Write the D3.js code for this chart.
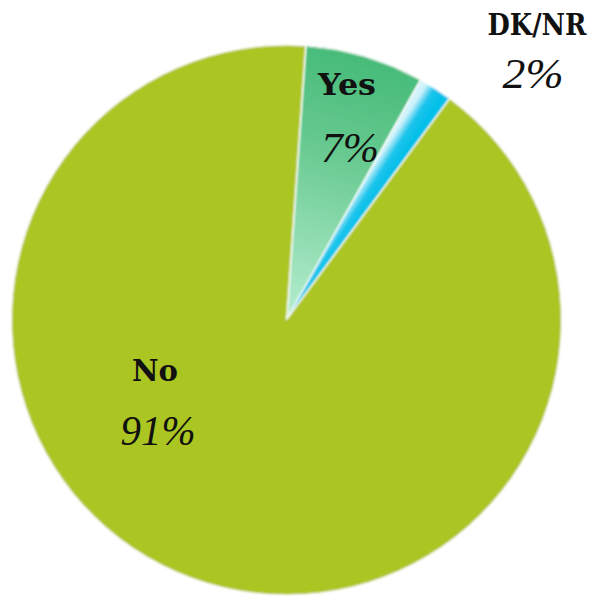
<!DOCTYPE html>
<html>
<head>
<meta charset="utf-8">
<script src="https://cdn.jsdelivr.net/npm/d3@7"></script>
<style>
  html, body { margin: 0; padding: 0; background: #ffffff; }
  svg { display: block; }
</style>
</head>
<body>
<svg id="pie-svg" width="593" height="596"></svg>
<script>
// data
const categories = ["Yes", "DK/NR", "No"]
const shares = [7, 2, 91]
const pctLabels = ["7%", "2%", "91%"]

const width = 593, height = 596
const cx = 286.5, cy = 320, radius = 275
const start_deg = 4

// label placement (picked by hand, like the original)
const labelPos = {
    "Yes":   { name: [347, 95],  pct: [350, 162], nameW: 58,  pctW: 58 },
    "DK/NR": { name: [537, 35],  pct: [533, 88],  nameW: 99,  pctW: 61 },
    "No":    { name: [155, 381], pct: [158, 445], nameW: 46,  pctW: 75 }
}

const svg = d3.select("#pie-svg")
const defs = svg.append("defs")

// soft edge look
const soft = defs.append("filter").attr("id", "soft")
    .attr("x", "-5%").attr("y", "-5%").attr("width", "110%").attr("height", "110%")
soft.append("feGaussianBlur").attr("stdDeviation", 1.3)

const pie = d3.pie()
    .sort(null)
    .value(d => d.value)
    .startAngle(start_deg * Math.PI / 180)
    .endAngle(2 * Math.PI + start_deg * Math.PI / 180)

const arc = d3.arc().innerRadius(0).outerRadius(radius)

const slices = pie(categories.map((c, i) => ({ name: c, value: shares[i], pct: pctLabels[i] })))

// point relative to the pie centre (the slice group is translated)
function polar(r, a) {
    return [r * Math.sin(a), -r * Math.cos(a)]
}

// gradients per slice
slices.forEach((s, i) => {
    const mid = (s.startAngle + s.endAngle) / 2
    if (s.data.name === "Yes") {
        const p1 = polar(radius, mid), p0 = polar(0, mid)
        const g = defs.append("linearGradient").attr("id", "grad-" + i)
            .attr("gradientUnits", "userSpaceOnUse")
            .attr("x1", p1[0]).attr("y1", p1[1]).attr("x2", p0[0]).attr("y2", p0[1])
        g.append("stop").attr("offset", "0%").attr("stop-color", "#46bb79")
        g.append("stop").attr("offset", "35%").attr("stop-color", "#66c98f")
        g.append("stop").attr("offset", "100%").attr("stop-color", "#b6eed0")
    } else if (s.data.name === "DK/NR") {
        // across the slice: pale edge on the left side
        const r = radius * 0.6
        const a = polar(r, s.startAngle), b = polar(r, s.endAngle)
        const g = defs.append("linearGradient").attr("id", "grad-" + i)
            .attr("gradientUnits", "userSpaceOnUse")
            .attr("x1", a[0]).attr("y1", a[1]).attr("x2", b[0]).attr("y2", b[1])
        g.append("stop").attr("offset", "0%").attr("stop-color", "#d2f3fb")
        g.append("stop").attr("offset", "45%").attr("stop-color", "#1cc4ec")
        g.append("stop").attr("offset", "100%").attr("stop-color", "#00bfe8")
    }
})

const colorOf = (d, i) => d.data.name === "No" ? "#abc524" : "url(#grad-" + i + ")"

svg.append("g")
    .attr("transform", `translate(${cx},${cy})`)
    .selectAll(".slice")
    .data(slices)
    .enter()
    .append("path")
    .attr("class", "slice")
    .attr("d", arc)
    .attr("fill", colorOf)
    .attr("stroke", "#ffffff")
    .attr("stroke-width", 1)
    .attr("filter", "url(#soft)")

// labels
const labels = svg.append("g").attr("class", "labels")
slices.forEach(s => {
    const pos = labelPos[s.data.name]
    labels.append("text")
        .attr("x", pos.name[0]).attr("y", pos.name[1])
        .attr("text-anchor", "middle")
        .attr("font-family", "'DejaVu Serif', serif")
        .attr("font-weight", "bold")
        .attr("font-size", 30)
        .attr("textLength", pos.nameW)
        .attr("lengthAdjust", "spacingAndGlyphs")
        .attr("fill", "#111111")
        .text(s.data.name)
    labels.append("text")
        .attr("x", pos.pct[0]).attr("y", pos.pct[1])
        .attr("text-anchor", "middle")
        .attr("font-family", "'Liberation Serif', serif")
        .attr("font-style", "italic")
        .attr("font-size", 42)
        .attr("textLength", pos.pctW)
        .attr("lengthAdjust", "spacingAndGlyphs")
        .attr("fill", "#111111")
        .text(s.data.pct)
})
</script>
</body>
</html>
